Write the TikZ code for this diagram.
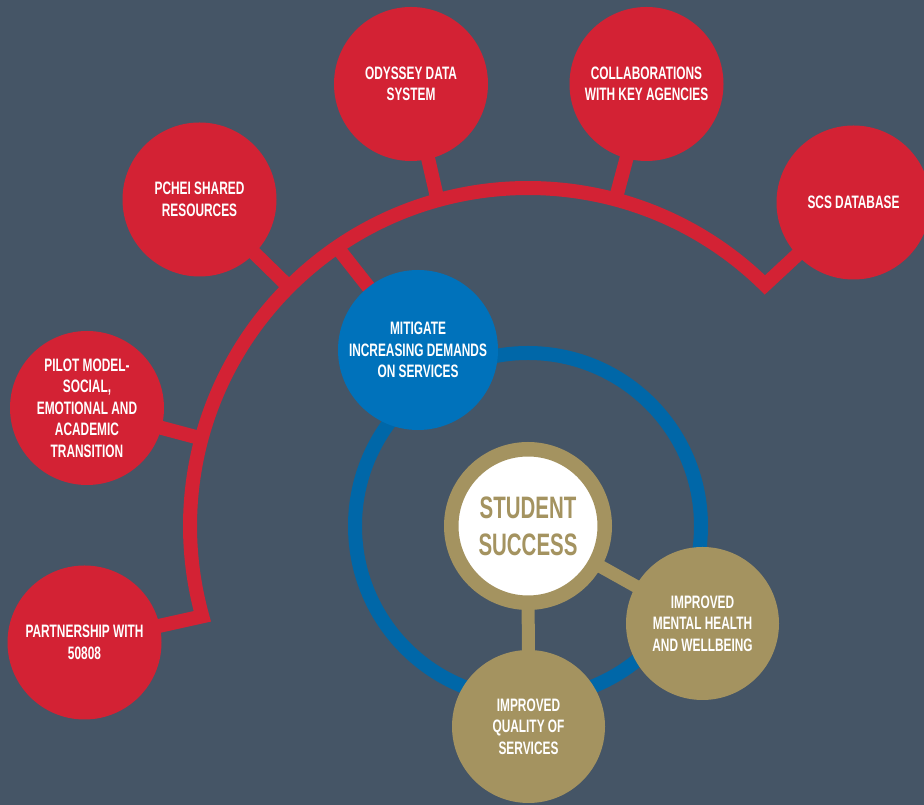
\documentclass[tikz,border=0pt]{standalone}
\usepackage{fontspec}
\newfontfamily\dinfont{Liberation Sans}[FakeStretch=0.66]
\usetikzlibrary{calc}
\definecolor{slate}{RGB}{69,85,102}
\definecolor{ssred}{RGB}{211,34,52}
\definecolor{ssblue}{RGB}{0,114,187}
\definecolor{ringblue}{RGB}{0,103,168}
\definecolor{sstan}{RGB}{164,147,96}
\pgfdeclarelayer{back}
\pgfdeclarelayer{links}
\pgfsetlayers{back,links,main}

\begin{document}
\begin{tikzpicture}[
    x=1pt, y=1pt,
    every node/.style={font=\dinfont\bfseries\fontsize{18}{21.5}\selectfont, text=white, align=center},
    redNode/.style={circle, fill=ssred, minimum size=154pt, inner sep=0pt},
    blueNode/.style={circle, fill=ssblue, minimum size=160pt, inner sep=0pt},
    tanNode/.style={circle, fill=sstan, minimum size=153pt, inner sep=0pt},
    hubNode/.style={circle, draw=sstan, line width=14.5pt, fill=white, minimum size=153.5pt, inner sep=0pt,
        text=sstan, font=\dinfont\bfseries\fontsize{31}{37}\selectfont},
    redLink/.style={draw=ssred, line width=14pt},
    tanLink/.style={draw=sstan, line width=13pt}
]
    \useasboundingbox (0,0) rectangle (924,805);
    \coordinate (hub) at (528,279);

    \node[hubNode] (success) at (hub) {STUDENT\\SUCCESS};
    \node[tanNode] (mental) at (702.5,181.5) {IMPROVED\\MENTAL HEALTH\\AND WELLBEING};
    \node[tanNode] (quality) at (528.5,78.5) {IMPROVED\\QUALITY OF\\SERVICES};
    \node[blueNode] (mitigate) at (418,455) {MITIGATE\\INCREASING DEMANDS\\ON SERVICES};

    \node[redNode] (pchei) at (199.5,605.5) {PCHEI SHARED\\RESOURCES};
    \node[redNode] (odyssey) at (411,721) {ODYSSEY DATA\\SYSTEM};
    \node[redNode] (collab) at (646.5,721) {COLLABORATIONS\\WITH KEY AGENCIES};
    \node[redNode] (scs) at (853.5,602.5) {SCS DATABASE};
    \node[redNode] (pilot) at (87,397) {PILOT MODEL-\\SOCIAL,\\EMOTIONAL AND\\ACADEMIC\\TRANSITION};
    \node[redNode] (partner) at (84.5,162.5) {PARTNERSHIP WITH\\50808};

    \coordinate (aScs) at ($(hub)+(45.5:338)$);
    \coordinate (aCol) at ($(hub)+(75:338)$);
    \coordinate (aOdy) at ($(hub)+(105.5:338)$);
    \coordinate (aMit) at ($(hub)+(124.4:338)$);
    \coordinate (aPch) at ($(hub)+(135:338)$);
    \coordinate (aPil) at ($(hub)+(165:338)$);

    \begin{pgfonlayer}{back}
        \fill[slate] (0,0) rectangle (924,805);
    \end{pgfonlayer}

    \begin{pgfonlayer}{links}
        \draw[redLink, line join=miter] (scs.center) -- (aScs)
            arc[start angle=45.5, end angle=195.5, radius=338pt] -- (partner.center);
        \draw[redLink] (collab.center) -- (aCol);
        \draw[redLink] (odyssey.center) -- (aOdy);
        \draw[redLink] (mitigate.center) -- (aMit);
        \draw[redLink] (pchei.center) -- (aPch);
        \draw[redLink] (pilot.center) -- (aPil);
        \draw[ringblue, line width=14pt] (hub) circle[radius=173pt];
        \draw[tanLink] (success.center) -- (mental.center);
        \draw[tanLink] (success.center) -- (quality.center);
    \end{pgfonlayer}
\end{tikzpicture}
\end{document}
